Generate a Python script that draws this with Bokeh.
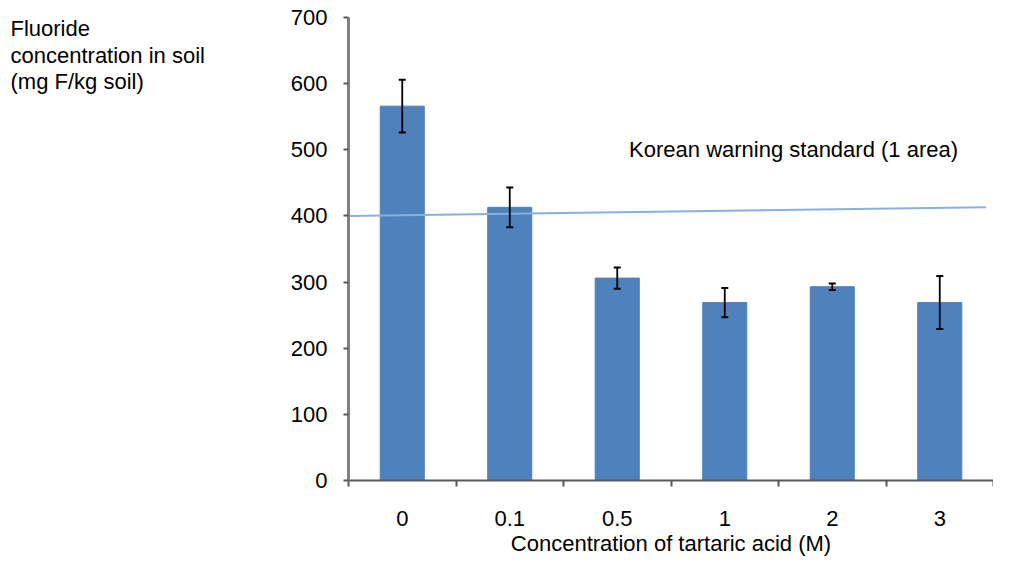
from bokeh.plotting import figure
from bokeh.layouts import row
from bokeh.models import (ColumnDataSource, Range1d, FixedTicker, Whisker, TeeHead, Label)
from bokeh.core.properties import value
from bokeh.embed import file_html
from bokeh.resources import INLINE

categories = ["0", "0.1", "0.5", "1", "2", "3"]
values = [566, 413, 306, 269, 293, 269]
errors = [40, 30, 16, 22, 5, 40]
standard_x = [0.0, 5.93]
standard_y = [400, 413]
y_ticks = [0, 100, 200, 300, 400, 500, 600, 700]
y_title_lines = ["Fluoride", "concentration in soil", "(mg F/kg soil)"]

FONT = "Liberation Sans"
FS = "22px"
H = 558
LW = 287
Y_MAX = 700
TOP = 17
FRAME_H = 465  # px between 0 and 700 in the frame

# ---- main chart ----
xs = [i + 0.5 for i in range(len(categories))]
src = ColumnDataSource(dict(
    x=xs, top=values,
    upper=[v + e for v, e in zip(values, errors)],
    lower=[v - e for v, e in zip(values, errors)],
))

yr = Range1d(0, Y_MAX)
p = figure(width=993 - LW, height=H, output_backend="svg", toolbar_location=None,
           x_range=Range1d(0, len(categories)), y_range=yr,
           min_border_left=60, min_border_top=TOP, min_border_right=0,
           min_border_bottom=4)
p.outline_line_color = None
p.grid.grid_line_color = None

p.vbar(x="x", top="top", width=0.41, source=src, color="#4F81BD")
p.add_layout(Whisker(source=src, base="x", upper="upper", lower="lower",
                     level="annotation",
                     line_color="black", line_width=1.8,
                     upper_head=TeeHead(size=7, line_color="black", line_width=2),
                     lower_head=TeeHead(size=7, line_color="black", line_width=2)))

p.line(standard_x, standard_y, line_color="#8DB0DB", line_width=2)

p.add_layout(Label(x=2.61, y=500, text="Korean warning standard (1 area)",
                   text_font=FONT, text_font_size=FS, text_baseline="middle",
                   text_color="black"))

# ---- left panel holding the y-axis title (horizontal, top-left) ----
pl = figure(width=LW, height=H, output_backend="svg", toolbar_location=None,
            x_range=Range1d(0, LW), y_range=yr,
            x_axis_location=None, y_axis_location=None,
            min_border=0, min_border_top=TOP, min_border_bottom=4)
pl.grid.visible = False
pl.outline_line_color = None
px_to_units = Y_MAX / FRAME_H
line_offsets_px = [11, 38, 64.5]
pl.text(x=[10, 10, 10], y=[Y_MAX - o * px_to_units for o in line_offsets_px],
        text=y_title_lines,
        text_font=value(FONT), text_font_size=value(FS),
        text_baseline="middle", text_align="left", text_color="black")

# x axis
xa = p.xaxis[0]
xa.ticker = FixedTicker(ticks=xs, minor_ticks=list(range(len(categories) + 1)))
xa.major_label_overrides = {x: c for x, c in zip(xs, categories)}
xa.major_tick_out = 0
xa.major_tick_in = 0
xa.minor_tick_out = 6
xa.minor_tick_in = 0
xa.minor_tick_line_color = "#595959"
xa.minor_tick_line_width = 2
xa.axis_line_color = "#595959"
xa.axis_line_width = 2
xa.major_label_standoff = 24
xa.major_label_text_font = FONT
xa.major_label_text_font_size = FS
xa.major_label_text_color = "black"
xa.axis_label = "Concentration of tartaric acid (M)"
xa.axis_label_text_font = FONT
xa.axis_label_text_font_size = FS
xa.axis_label_text_font_style = "normal"
xa.axis_label_standoff = 2
xa.axis_label_text_color = "black"

ya = p.yaxis[0]
ya.ticker = FixedTicker(ticks=y_ticks)
ya.minor_tick_line_color = None
ya.major_tick_out = 5
ya.major_tick_in = 0
ya.major_tick_line_color = "#595959"
ya.major_tick_line_width = 2
ya.axis_line_color = "#808080"
ya.axis_line_width = 3
ya.major_label_standoff = 16
ya.major_label_text_font = FONT
ya.major_label_text_font_size = FS
ya.major_label_text_color = "black"

layout = row(pl, p, spacing=0)
open("out.html", "w").write(file_html(layout, INLINE))
